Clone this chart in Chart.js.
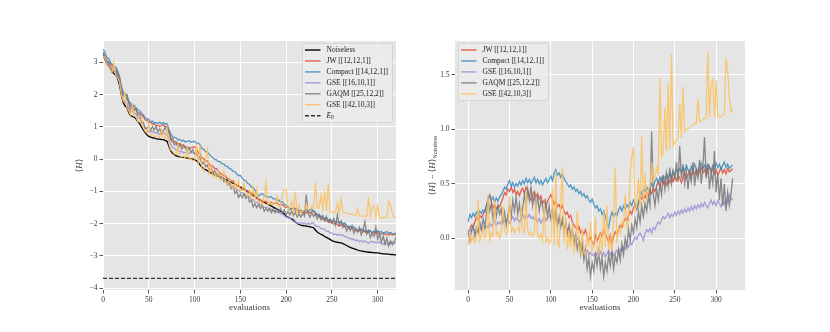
<!DOCTYPE html>
<html>
<head>
<meta charset="utf-8">
<script src="https://cdn.jsdelivr.net/npm/chart.js@4.4.0/dist/chart.umd.min.js"></script>
<style>
  body { margin: 0; background: #fff; }
  #wrap { position: relative; width: 830px; height: 332px; }
  canvas { position: absolute; top: 0; }
</style>
</head>
<body>
<div id="wrap">
  <canvas id="energyChart" width="415" height="332" style="left:0"></canvas>
  <canvas id="diffChart" width="415" height="332" style="left:415px"></canvas>
</div>
<script>
// evaluation index (every 2nd evaluation)
const evals = [
  0,2,4,6,8,10,12,14,16,18, 20,22,24,26,28,30,32,34,36,38,
  40,42,44,46,48,50,52,54,56,58, 60,62,64,66,68,70,72,74,76,78,
  80,82,84,86,88,90,92,94,96,98, 100,102,104,106,108,110,112,114,116,118,
  120,122,124,126,128,130,132,134,136,138, 140,142,144,146,148,150,152,154,156,158,
  160,162,164,166,168,170,172,174,176,178, 180,182,184,186,188,190,192,194,196,198,
  200,202,204,206,208,210,212,214,216,218, 220,222,224,226,228,230,232,234,236,238,
  240,242,244,246,248,250,252,254,256,258, 260,262,264,266,268,270,272,274,276,278,
  280,282,284,286,288,290,292,294,296,298, 300,302,304,306,308,310,312,314,316,318,
  320
];

// tick labels
const xTicks = [0, 50, 100, 150, 200, 250, 300];
const energyTicks = [-4, -3, -2, -1, 0, 1, 2, 3];
const diffTicks = [0.0, 0.5, 1.0, 1.5];

// noiseless <H> (left panel, black)
const noiseless = [
  3.25,3.1,2.95,2.9,2.8,2.7,2.65,2.6,2.5,2.3,
  2.0,1.75,1.65,1.6,1.45,1.35,1.32,1.3,1.25,1.15,
  1.1,1.0,0.9,0.82,0.75,0.7,0.68,0.66,0.65,0.63,
  0.62,0.62,0.6,0.6,0.58,0.55,0.4,0.25,0.18,0.14,
  0.1,0.08,0.07,0.06,0.05,0.04,0.03,0.02,0.01,0.0,
  -0.02,-0.05,-0.1,-0.18,-0.25,-0.3,-0.33,-0.36,-0.4,-0.43,
  -0.46,-0.49,-0.51,-0.53,-0.55,-0.58,-0.6,-0.63,-0.66,-0.69,
  -0.72,-0.75,-0.78,-0.81,-0.84,-0.87,-0.9,-0.93,-0.97,-1.01,
  -1.05,-1.09,-1.13,-1.17,-1.21,-1.25,-1.28,-1.31,-1.34,-1.37,
  -1.4,-1.43,-1.46,-1.49,-1.52,-1.55,-1.58,-1.62,-1.66,-1.7,
  -1.78,-1.8,-1.83,-1.86,-1.9,-1.95,-1.99,-2.03,-2.05,-2.06,
  -2.07,-2.08,-2.09,-2.1,-2.11,-2.13,-2.2,-2.26,-2.3,-2.33,
  -2.36,-2.4,-2.43,-2.46,-2.49,-2.53,-2.55,-2.57,-2.58,-2.59,
  -2.6,-2.62,-2.65,-2.68,-2.71,-2.74,-2.76,-2.78,-2.8,-2.82,
  -2.84,-2.85,-2.86,-2.87,-2.88,-2.89,-2.89,-2.9,-2.9,-2.91,
  -2.91,-2.92,-2.93,-2.94,-2.94,-2.95,-2.95,-2.96,-2.96,-2.97,
  -2.97
];
const groundEnergy = -3.7;

// <H> - <H>_noiseless
const diffJW = [
  0.06,0.09,0.12,0.1,0.15,0.19,0.17,0.21,0.19,0.22,
  0.25,0.3,0.36,0.4,0.33,0.28,0.31,0.27,0.3,0.29,
  0.33,0.37,0.42,0.4,0.45,0.43,0.47,0.42,0.45,0.4,
  0.43,0.39,0.44,0.46,0.41,0.47,0.44,0.38,0.35,0.4,
  0.43,0.38,0.41,0.36,0.39,0.32,0.35,0.3,0.34,0.37,
  0.4,0.36,0.31,0.34,0.29,0.31,0.27,0.3,0.25,0.22,
  0.24,0.19,0.21,0.15,0.12,0.1,0.08,0.11,0.05,0.07,
  0.04,0.08,0.02,-0.02,0.01,-0.04,-0.06,0.03,-0.02,0.01,
  0.05,0.02,0.07,0.04,0.0,-0.03,0.03,-0.05,0.02,0.06,
  0.04,0.08,0.12,0.1,0.15,0.18,0.16,0.21,0.25,0.22,
  0.28,0.31,0.27,0.33,0.38,0.36,0.4,0.37,0.42,0.39,
  0.44,0.41,0.46,0.43,0.48,0.52,0.47,0.55,0.5,0.53,
  0.49,0.54,0.51,0.56,0.52,0.57,0.53,0.58,0.55,0.51,
  0.56,0.6,0.55,0.58,0.62,0.57,0.61,0.59,0.63,0.58,
  0.61,0.65,0.6,0.63,0.58,0.62,0.66,0.6,0.64,0.59,
  0.63,0.58,0.61,0.65,0.6,0.63,0.59,0.64,0.61,0.62,
  0.64
];
const diffCompact = [
  0.15,0.22,0.19,0.23,0.2,0.24,0.21,0.25,0.23,0.26,
  0.24,0.3,0.36,0.39,0.35,0.38,0.33,0.37,0.34,0.38,
  0.4,0.43,0.47,0.45,0.5,0.53,0.48,0.51,0.47,0.5,
  0.48,0.52,0.49,0.53,0.5,0.55,0.51,0.54,0.5,0.53,
  0.56,0.51,0.54,0.5,0.53,0.49,0.52,0.55,0.51,0.54,
  0.57,0.53,0.6,0.63,0.58,0.6,0.56,0.59,0.55,0.52,
  0.5,0.47,0.49,0.45,0.47,0.43,0.45,0.41,0.43,0.39,
  0.41,0.37,0.39,0.35,0.33,0.36,0.31,0.28,0.3,0.25,
  0.27,0.22,0.25,0.2,0.14,0.1,0.19,0.24,0.2,0.23,
  0.21,0.26,0.29,0.25,0.3,0.27,0.31,0.28,0.33,0.3,
  0.35,0.31,0.27,0.32,0.38,0.42,0.45,0.43,0.47,0.44,
  0.46,0.5,0.47,0.52,0.55,0.51,0.56,0.53,0.57,0.55,
  0.59,0.55,0.6,0.57,0.62,0.58,0.63,0.6,0.64,0.61,
  0.65,0.62,0.67,0.63,0.6,0.66,0.62,0.68,0.64,0.61,
  0.66,0.69,0.64,0.67,0.63,0.68,0.65,0.62,0.67,0.64,
  0.69,0.65,0.68,0.63,0.67,0.7,0.65,0.68,0.64,0.66,
  0.67
];
const diffGSE16 = [
  0.05,0.08,0.06,0.09,0.07,0.05,0.08,0.1,0.07,0.11,
  0.09,0.12,0.1,0.14,0.11,0.13,0.16,0.12,0.15,0.13,
  0.16,0.14,0.17,0.15,0.18,0.14,0.17,0.2,0.16,0.19,
  0.17,0.15,0.19,0.22,0.18,0.21,0.19,0.22,0.18,0.2,
  0.17,0.19,0.15,0.18,0.14,0.17,0.2,0.16,0.19,0.21,
  0.18,0.2,0.16,0.18,0.14,0.16,0.12,0.14,0.1,0.11,
  0.08,0.09,0.05,0.06,0.02,0.03,0.0,-0.03,-0.05,-0.08,
  -0.1,-0.12,-0.11,-0.15,-0.13,-0.16,-0.14,-0.17,-0.13,-0.15,
  -0.12,-0.16,-0.13,-0.17,-0.14,-0.11,-0.15,-0.12,-0.16,-0.13,
  -0.11,-0.14,-0.1,-0.12,-0.08,-0.1,-0.06,-0.08,-0.04,-0.06,
  -0.02,0.01,-0.01,0.03,0.05,0.02,-0.02,0.04,0.08,0.06,
  0.09,0.05,0.1,0.08,0.12,0.15,0.13,0.17,0.2,0.18,
  0.2,0.23,0.19,0.22,0.2,0.24,0.21,0.25,0.22,0.26,
  0.23,0.27,0.24,0.28,0.25,0.29,0.26,0.3,0.27,0.31,
  0.28,0.32,0.29,0.33,0.3,0.28,0.32,0.35,0.31,0.34,
  0.3,0.35,0.32,0.29,0.34,0.31,0.36,0.33,0.4,0.35,
  0.37
];
const diffGAQM = [
  0.05,-0.02,0.08,0.12,0.02,0.1,0.05,0.15,0.08,0.18,
  0.1,0.22,0.35,0.25,0.32,0.18,0.28,0.2,0.3,0.22,
  0.27,0.15,0.24,0.12,0.22,0.3,0.2,0.35,0.25,0.38,
  0.22,0.32,0.18,0.28,0.4,0.3,0.45,0.35,0.48,0.3,
  0.4,0.28,0.38,0.25,0.35,0.3,0.22,0.33,0.2,0.3,
  0.18,0.27,0.15,0.25,0.12,0.2,0.1,0.18,0.06,0.15,
  0.04,0.12,0.0,0.08,-0.05,0.03,-0.1,-0.02,-0.15,-0.05,
  -0.2,-0.1,-0.28,-0.18,-0.35,-0.22,-0.3,-0.15,-0.25,-0.12,
  -0.28,-0.18,-0.35,-0.22,-0.3,-0.15,-0.25,-0.12,-0.28,-0.16,
  -0.22,-0.1,-0.2,-0.05,-0.15,0.0,-0.08,0.08,-0.02,0.12,
  0.05,0.18,0.1,0.25,0.15,0.3,0.2,0.32,0.25,0.38,
  0.3,0.98,0.4,0.3,0.45,0.35,0.5,0.4,0.58,0.45,
  0.6,0.48,0.65,0.5,0.62,0.55,0.7,0.52,0.85,0.55,
  0.68,0.5,0.62,0.45,0.6,0.52,0.7,0.48,0.62,0.55,
  0.72,0.5,0.65,0.93,0.55,0.68,0.45,0.6,0.5,0.8,
  0.42,0.6,0.35,0.55,0.3,0.5,0.25,0.42,0.3,0.4,
  0.55
];
const diffGSE42 = [
  -0.06,0.05,-0.03,0.02,-0.04,0.0,0.35,-0.02,0.03,0.1,
  0.0,0.05,0.4,-0.02,0.05,0.02,0.35,0.03,0.06,0.0,
  0.05,0.3,0.08,0.04,0.07,0.38,0.06,0.1,0.05,0.08,
  0.1,0.06,0.3,0.08,0.05,0.42,0.07,0.03,0.06,0.02,
  0.05,0.35,0.02,0.0,0.04,-0.02,0.3,-0.03,0.0,-0.05,
  -0.02,0.45,-0.06,0.62,-0.04,-0.08,0.3,0.65,-0.05,0.2,
  -0.1,0.05,-0.08,0.15,-0.12,-0.05,0.25,-0.1,-0.14,0.1,
  -0.12,-0.16,0.05,-0.08,0.15,-0.12,-0.05,0.2,-0.1,-0.15,
  0.05,-0.12,0.25,-0.08,0.3,-0.1,0.0,-0.12,0.2,0.65,
  -0.05,0.1,0.05,0.15,0.12,0.4,0.1,0.15,0.6,0.74,
  0.84,0.25,0.3,0.55,0.28,0.94,0.32,0.6,0.38,0.45,
  0.48,0.7,0.52,0.55,0.65,0.6,1.47,0.75,0.78,1.2,
  0.8,1.42,0.82,1.69,0.85,0.88,0.9,0.92,1.23,0.92,
  1.39,0.98,1.0,1.0,1.02,1.03,1.04,1.05,1.05,1.28,
  1.07,1.08,1.09,1.1,1.1,1.71,1.11,1.42,1.46,1.11,
  1.45,1.12,1.11,1.12,1.13,1.14,1.65,1.54,1.3,1.16,
  1.19
];

const labels = ['JW [[12,12,1]]', 'Compact [[14,12,1]]', 'GSE [[16,10,1]]', 'GAQM [[25,12,2]]', 'GSE [[42,10,3]]'];
const colors = ['rgba(226,74,51,0.85)', 'rgba(52,138,189,0.85)', 'rgba(152,142,213,0.85)', 'rgba(119,119,119,0.85)', 'rgba(251,193,94,0.85)'];
const diffs = [diffJW, diffCompact, diffGSE16, diffGAQM, diffGSE42];

const SERIF = '"Liberation Serif", "DejaVu Serif", serif';
const INK = '#3a3a3a';

function pts(ys) {
  return evals.map((x, i) => ({x: x, y: ys[i]}));
}
function fmt(v, d) {
  const s = Math.abs(v).toFixed(d);
  return v < 0 ? '\u2212' + s : s;
}

// draw a run of text pieces: [text, size, italic, dy]
function richText(ctx, parts, x, y, opts) {
  opts = opts || {};
  ctx.save();
  ctx.translate(x, y);
  if (opts.rotate) ctx.rotate(-Math.PI / 2);
  ctx.fillStyle = opts.color || INK;
  ctx.textBaseline = 'middle';
  let w = 0;
  parts.forEach(p => { ctx.font = (p[2] ? 'italic ' : '') + p[1] + 'px ' + SERIF; w += ctx.measureText(p[0]).width; });
  let cx = opts.left ? 0 : -w / 2;
  parts.forEach(p => {
    ctx.font = (p[2] ? 'italic ' : '') + p[1] + 'px ' + SERIF;
    ctx.fillText(p[0], cx, p[3] || 0);
    cx += ctx.measureText(p[0]).width;
  });
  ctx.restore();
}

const panelBg = {
  id: 'panelBg',
  beforeDraw(chart) {
    const a = chart.chartArea, ctx = chart.ctx;
    ctx.save();
    ctx.fillStyle = '#E5E5E5';
    ctx.fillRect(a.left, a.top, a.right - a.left, a.bottom - a.top);
    ctx.restore();
  }
};

// axis titles + legend box drawn inside the axes, like matplotlib
const decor = {
  id: 'decor',
  afterDraw(chart, args, o) {
    const a = chart.chartArea, ctx = chart.ctx;
    richText(ctx, [['evaluations', 9]], (a.left + a.right) / 2, 308);
    richText(ctx, o.yTitle, o.yTitleX, (a.top + a.bottom) / 2, {rotate: true});
    const b = o.box;
    ctx.save();
    ctx.fillStyle = 'rgba(236,236,236,0.85)';
    ctx.strokeStyle = '#cfcfcf';
    ctx.lineWidth = 0.8;
    ctx.beginPath();
    ctx.roundRect(b.x + 0.5, b.y + 0.5, b.w, b.h, 2);
    ctx.fill();
    ctx.stroke();
    o.items.forEach((it, i) => {
      const yy = b.y + 7 + i * 10.95;
      ctx.strokeStyle = it.color;
      ctx.lineWidth = 1.4;
      ctx.setLineDash(it.dash || []);
      ctx.beginPath();
      ctx.moveTo(b.x + 3, yy);
      ctx.lineTo(b.x + 18.5, yy);
      ctx.stroke();
      ctx.setLineDash([]);
      richText(ctx, it.text, b.x + 24.5, yy, {left: true, color: '#222'});
    });
    ctx.restore();
  }
};

function lineSet(label, data, color, order, extra) {
  return Object.assign({
    label: label, data: data, borderColor: color, borderWidth: 1.3,
    pointRadius: 0, tension: 0, fill: false, order: order
  }, extra || {});
}

function axis(min, max, tickList, digits, size) {
  return {
    type: 'linear', min: min, max: max,
    afterBuildTicks: s => { s.ticks = tickList.map(v => ({value: v})); },
    ticks: {
      maxRotation: 0, autoSkip: false,
      color: INK, padding: 2, font: {family: SERIF, size: 7.5},
      callback: v => fmt(v, digits)
    },
    grid: {color: '#ffffff', lineWidth: 1, tickColor: '#555', tickLength: 3.5},
    border: {display: false},
    afterFit: s => { if (s.isHorizontal()) s.height = size; else s.width = size; }
  };
}

// left panel: the raw energies, noiseless curve plus each offset
const leftSets = [lineSet('Noiseless', pts(noiseless), '#000000', 10)];
diffs.forEach((d, k) => {
  leftSets.push(lineSet(labels[k], pts(noiseless.map((v, i) => v + d[i])), colors[k], 9 - k));
});
leftSets.push(lineSet('E0', [{x: 0, y: groundEnergy}, {x: 320, y: groundEnergy}], 'rgba(0,0,0,0.8)', 1, {borderDash: [4, 2]}));

new Chart('energyChart', {
  type: 'line',
  data: {datasets: leftSets},
  options: {
    responsive: false, animation: false, devicePixelRatio: 1,
    layout: {padding: {left: 0, right: 19, top: 41, bottom: 0}},
    scales: {
      x: axis(0, 320, xTicks, 0, 42),
      y: axis(-4.06, 3.66, energyTicks, 0, 103)
    },
    plugins: {
      legend: {display: false}, tooltip: {enabled: false},
      decor: {
        yTitle: [['\u27E8', 9], ['H', 9, true], ['\u27E9', 9]],
        yTitleX: 80,
        box: {x: 302, y: 43, w: 90, h: 79},
        items: [
          {text: [['Noiseless', 7.5]], color: '#000'},
          {text: [[labels[0], 7.5]], color: colors[0]},
          {text: [[labels[1], 7.5]], color: colors[1]},
          {text: [[labels[2], 7.5]], color: colors[2]},
          {text: [[labels[3], 7.5]], color: colors[3]},
          {text: [[labels[4], 7.5]], color: colors[4]},
          {text: [['E', 7.5, true], ['0', 5.5, false, 2]], color: 'rgba(0,0,0,0.8)', dash: [4, 2]}
        ]
      }
    }
  },
  plugins: [panelBg, decor]
});

// right panel: offsets from the noiseless run
const rightSets = diffs.map((d, k) => lineSet(labels[k], pts(d), colors[k], 9 - k));

new Chart('diffChart', {
  type: 'line',
  data: {datasets: rightSets},
  options: {
    responsive: false, animation: false, devicePixelRatio: 1,
    layout: {padding: {left: 0, right: 85, top: 41, bottom: 0}},
    scales: {
      x: axis(-16, 335, xTicks, 0, 42),
      y: axis(-0.474, 1.81, diffTicks, 1, 40)
    },
    plugins: {
      legend: {display: false}, tooltip: {enabled: false},
      decor: {
        yTitle: [['\u27E8', 9], ['H', 9, true], ['\u27E9 \u2212 \u27E8', 9], ['H', 9, true], ['\u27E9', 9], ['Noiseless', 6, false, 2.5]],
        yTitleX: 18,
        box: {x: 43, y: 43, w: 90, h: 57},
        items: labels.map((l, k) => ({text: [[l, 7.5]], color: colors[k]}))
      }
    }
  },
  plugins: [panelBg, decor]
});
</script>
</body>
</html>
